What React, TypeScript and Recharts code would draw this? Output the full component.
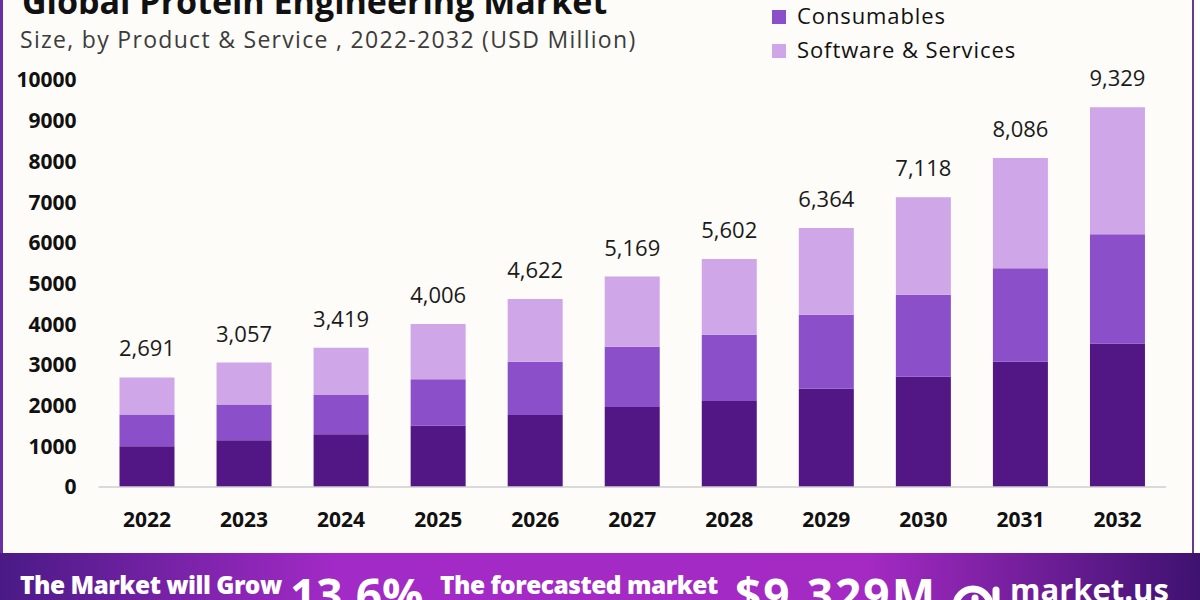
import React from "react";
import { BarChart, Bar, XAxis, YAxis, LabelList } from "recharts";

const years = ["2022", "2023", "2024", "2025", "2026", "2027", "2028", "2029", "2030", "2031", "2032"];
const instruments = [1001, 1149, 1296, 1510, 1771, 1968, 2116, 2411, 2706, 3075, 3528];
const consumables = [780, 878, 977, 1139, 1304, 1476, 1623, 1820, 2017, 2298, 2681];
const software = [910, 1030, 1146, 1357, 1547, 1725, 1863, 2133, 2395, 2713, 3120];
const totals = [2691, 3057, 3419, 4006, 4622, 5169, 5602, 6364, 7118, 8086, 9329];
const yTicks = [0, 1000, 2000, 3000, 4000, 5000, 6000, 7000, 8000, 9000, 10000];

const legendItems = [
  { name: "Consumables", color: "#8b4fc9" },
  { name: "Software & Services", color: "#cfa6e7" },
];

const COLORS = { dark: "#521685", mid: "#8b4fc9", light: "#cfa6e7" };

const data = years.map((year, i) => ({
  year,
  instruments: instruments[i],
  consumables: consumables[i],
  software: software[i],
  total: totals[i],
}));

const FONT = "'Open Sans', 'DejaVu Sans', sans-serif";

function Background() {
  return (
    <svg width={1200} height={600} style={{ position: "absolute", left: 0, top: 0 }}>
      <defs>
        <linearGradient id="banner" x1="0" y1="0" x2="1" y2="0">
          <stop offset="0" stopColor="#4a1a86" />
          <stop offset="0.28" stopColor="#a22ac6" />
          <stop offset="0.72" stopColor="#a52ac4" />
          <stop offset="1" stopColor="#3e1270" />
        </linearGradient>
      </defs>
      <rect x={0} y={0} width={1200} height={600} fill="#ffffff" />
      <rect x={0} y={0} width={1194} height={555} fill="#fdfcf9" />
      <rect x={0} y={0} width={3} height={555} fill="#6b2fa3" />
      <rect x={1192} y={0} width={2} height={555} fill="#6a3a8a" />
      <rect x={0} y={553} width={1200} height={47} fill="url(#banner)" />
      <text x={22} y={14} fontFamily={FONT} fontWeight={700} fontSize={34} fill="#111">
        Global Protein Engineering Market
      </text>
      <text x={20} y={48} fontFamily={FONT} fontWeight={400} fontSize={23} fill="#3c3c3c" letterSpacing={1.3}>
        Size, by Product &amp; Service , 2022-2032 (USD Million)
      </text>
      {legendItems.map((it, i) => (
        <g key={it.name}>
          <rect x={772} y={10 + i * 34} width={14} height={14} fill={it.color} />
          <text x={797} y={24 + i * 34} fontFamily={FONT} fontSize={22} fill="#111" letterSpacing={0.9}>
            {it.name}
          </text>
        </g>
      ))}
      <text x={20} y={594} fontFamily={FONT} fontWeight={800} fontSize={24.5} fill="#ffffff" letterSpacing={-0.5}>
        The Market will Grow
      </text>
      <text x={290} y={612} fontFamily={FONT} fontWeight={700} fontSize={46} fill="#ffffff">
        13.6%
      </text>
      <text x={440} y={594} fontFamily={FONT} fontWeight={800} fontSize={24.5} fill="#ffffff" letterSpacing={-0.5}>
        The forecasted market
      </text>
      <text x={735} y={612} fontFamily={FONT} fontWeight={700} fontSize={46} fill="#ffffff" letterSpacing={2}>
        $9,329M
      </text>
      <g fill="none" stroke="#ffffff" strokeWidth={7} strokeLinecap="round">
        <path d="M 956 606 A 17 17 0 0 1 990 606" />
        <line x1={975} y1={606} x2={975} y2={598} />
        <line x1={996} y1={590} x2={996} y2={606} />
      </g>
      <text x={1010} y={601} fontFamily={FONT} fontWeight={700} fontSize={31} fill="#ffffff">
        market.us
      </text>
    </svg>
  );
}

export default function App() {
  return (
    <div style={{ position: "absolute", left: 0, top: 0, width: 1200, height: 600, overflow: "hidden" }}>
      <Background />
      <div style={{ position: "absolute", left: 0, top: 0 }}>
        <BarChart
          width={1200}
          height={600}
          data={data}
          margin={{ top: 80, right: 34, bottom: 83, left: 0 }}
          barSize={55}
        >
          <XAxis
            dataKey="year"
            height={30}
            tickSize={0}
            tickMargin={25}
            axisLine={{ stroke: "#cfcfcf", strokeWidth: 1.5 }}
            tickLine={false}
            tick={{ fontFamily: FONT, fontWeight: 700, fontSize: 21, fill: "#111" }}
          />
          <YAxis
            width={98.5}
            domain={[0, 10000]}
            ticks={yTicks}
            interval={0}
            tickSize={0}
            tickMargin={22}
            axisLine={false}
            tickLine={false}
            tick={{ fontFamily: FONT, fontWeight: 700, fontSize: 21, fill: "#111" }}
          />
          <Bar dataKey="instruments" stackId="a" fill={COLORS.dark} isAnimationActive={false} />
          <Bar dataKey="consumables" stackId="a" fill={COLORS.mid} isAnimationActive={false} />
          <Bar dataKey="software" stackId="a" fill={COLORS.light} isAnimationActive={false}>
            <LabelList
              dataKey="total"
              position="top"
              offset={21}
              formatter={(v: number) => v.toLocaleString("en-US")}
              style={{ fontFamily: FONT, fontSize: 22, fill: "#1a1a1a" }}
            />
          </Bar>
        </BarChart>
      </div>
    </div>
  );
}
